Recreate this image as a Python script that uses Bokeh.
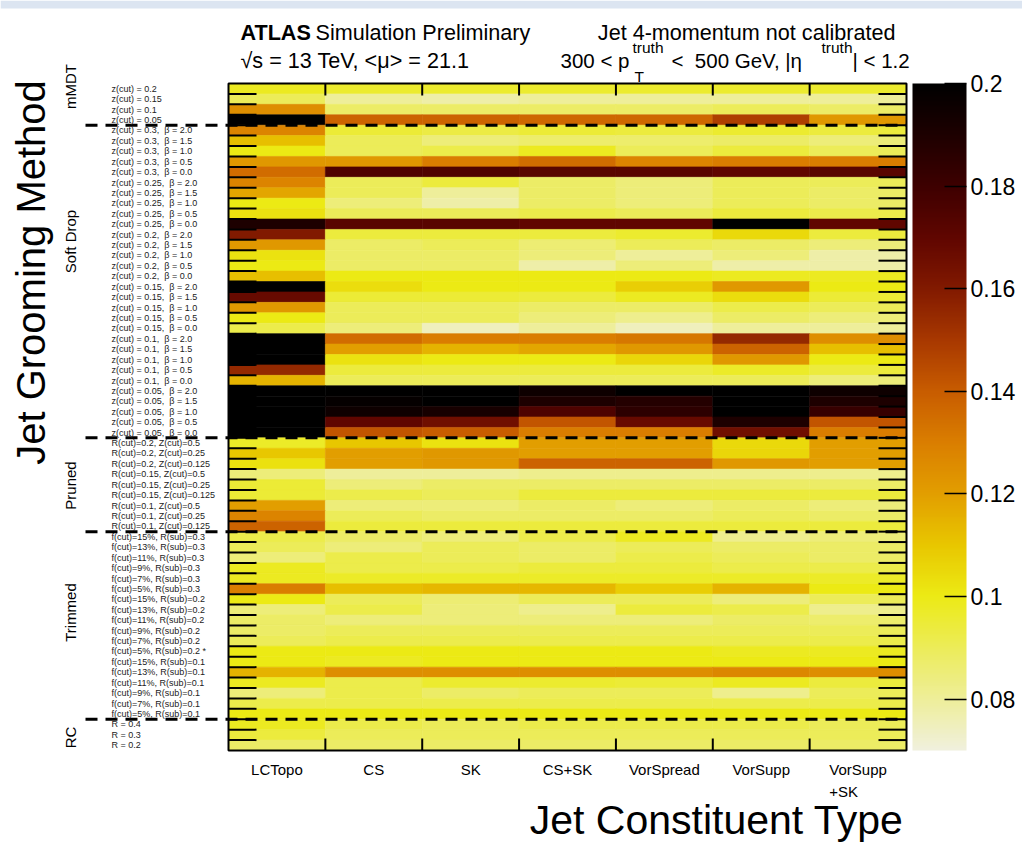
import numpy as np
from bokeh.plotting import figure
from bokeh.models import (ColumnDataSource, LinearColorMapper, ColorBar, FixedTicker,
                          Range1d, Label, LabelSet, NumeralTickFormatter)
from bokeh.core.properties import value
from bokeh.transform import transform
from bokeh.embed import file_html
from bokeh.resources import INLINE

# ---------------- data ----------------
constituents = ["LCTopo", "CS", "SK", "CS+SK", "VorSpread", "VorSupp", "VorSupp\n+SK"]

groups = ["mMDT", "Soft Drop", "Pruned", "Trimmed", "RC"]

mmdt_labels = ["z(cut) = 0.2", "z(cut) = 0.15", "z(cut) = 0.1", "z(cut) = 0.05"]
softdrop_labels = [f"z(cut) = {z},\u00a0 \u03b2 = {b}"
                   for z in ["0.3", "0.25", "0.2", "0.15", "0.1", "0.05"]
                   for b in ["2.0", "1.5", "1.0", "0.5", "0.0"]]
pruned_labels = [f"R(cut)={r}, Z(cut)={zc}"
                 for r in ["0.2", "0.15", "0.1"] for zc in ["0.5", "0.25", "0.125"]]
trimmed_labels = [f"f(cut)={f}, R(sub)={rs}"
                  for rs in ["0.3", "0.2", "0.1"] for f in ["15%", "13%", "11%", "9%", "7%", "5%"]]
trimmed_labels[11] = trimmed_labels[11] + " *"
rc_labels = ["R = 0.4", "R = 0.3", "R = 0.2"]

# columns: LCTopo, CS, SK, CS+SK, VorSpread, VorSupp, VorSupp+SK
mmdt_res = [
    [0.098, 0.096, 0.096, 0.096, 0.096, 0.096, 0.096],
    [0.090, 0.080, 0.078, 0.080, 0.080, 0.080, 0.080],
    [0.125, 0.088, 0.088, 0.088, 0.088, 0.090, 0.088],
    [0.210, 0.138, 0.138, 0.137, 0.137, 0.148, 0.122],
]
softdrop_res = [
    [0.128, 0.095, 0.093, 0.095, 0.094, 0.096, 0.094],
    [0.112, 0.090, 0.085, 0.087, 0.087, 0.088, 0.085],
    [0.100, 0.090, 0.092, 0.098, 0.090, 0.094, 0.090],
    [0.122, 0.122, 0.130, 0.135, 0.128, 0.130, 0.130],
    [0.135, 0.175, 0.175, 0.172, 0.172, 0.170, 0.172],
    [0.128, 0.090, 0.094, 0.088, 0.085, 0.090, 0.090],
    [0.118, 0.090, 0.080, 0.088, 0.085, 0.090, 0.088],
    [0.100, 0.085, 0.078, 0.088, 0.085, 0.090, 0.088],
    [0.102, 0.090, 0.090, 0.092, 0.090, 0.094, 0.092],
    [0.190, 0.172, 0.172, 0.170, 0.170, 0.205, 0.170],
    [0.160, 0.094, 0.094, 0.094, 0.096, 0.105, 0.094],
    [0.122, 0.088, 0.090, 0.086, 0.090, 0.088, 0.085],
    [0.102, 0.088, 0.088, 0.085, 0.080, 0.085, 0.078],
    [0.100, 0.088, 0.088, 0.078, 0.085, 0.078, 0.078],
    [0.112, 0.100, 0.100, 0.100, 0.100, 0.098, 0.098],
    [0.210, 0.104, 0.100, 0.100, 0.108, 0.122, 0.100],
    [0.168, 0.095, 0.095, 0.094, 0.098, 0.104, 0.095],
    [0.122, 0.090, 0.090, 0.088, 0.088, 0.092, 0.090],
    [0.100, 0.090, 0.090, 0.085, 0.082, 0.088, 0.085],
    [0.092, 0.085, 0.075, 0.080, 0.075, 0.080, 0.080],
    [0.210, 0.135, 0.130, 0.130, 0.132, 0.155, 0.125],
    [0.210, 0.120, 0.115, 0.118, 0.122, 0.138, 0.112],
    [0.210, 0.102, 0.100, 0.100, 0.106, 0.122, 0.100],
    [0.155, 0.094, 0.094, 0.094, 0.094, 0.097, 0.094],
    [0.115, 0.090, 0.090, 0.090, 0.090, 0.090, 0.085],
    [0.210, 0.210, 0.210, 0.195, 0.200, 0.210, 0.195],
    [0.210, 0.198, 0.205, 0.190, 0.188, 0.210, 0.190],
    [0.210, 0.195, 0.192, 0.175, 0.185, 0.210, 0.182],
    [0.210, 0.170, 0.165, 0.142, 0.168, 0.190, 0.142],
    [0.210, 0.142, 0.140, 0.130, 0.130, 0.165, 0.130],
]
pruned_res = [
    [0.097, 0.110, 0.102, 0.120, 0.120, 0.105, 0.120],
    [0.110, 0.120, 0.122, 0.120, 0.120, 0.106, 0.120],
    [0.103, 0.120, 0.122, 0.138, 0.138, 0.122, 0.120],
    [0.085, 0.080, 0.080, 0.082, 0.082, 0.082, 0.082],
    [0.095, 0.085, 0.088, 0.088, 0.088, 0.088, 0.088],
    [0.095, 0.092, 0.090, 0.094, 0.094, 0.094, 0.094],
    [0.120, 0.085, 0.085, 0.088, 0.085, 0.088, 0.085],
    [0.128, 0.090, 0.088, 0.088, 0.088, 0.090, 0.088],
    [0.138, 0.094, 0.094, 0.094, 0.094, 0.094, 0.094],
]
trimmed_res = [
    [0.092, 0.088, 0.085, 0.092, 0.098, 0.082, 0.085],
    [0.090, 0.085, 0.090, 0.088, 0.090, 0.088, 0.088],
    [0.085, 0.092, 0.090, 0.088, 0.092, 0.090, 0.088],
    [0.098, 0.092, 0.092, 0.094, 0.094, 0.092, 0.092],
    [0.098, 0.097, 0.097, 0.097, 0.097, 0.097, 0.097],
    [0.130, 0.112, 0.114, 0.114, 0.108, 0.115, 0.100],
    [0.100, 0.090, 0.086, 0.090, 0.090, 0.085, 0.090],
    [0.085, 0.092, 0.085, 0.082, 0.094, 0.092, 0.082],
    [0.088, 0.085, 0.085, 0.085, 0.085, 0.088, 0.087],
    [0.088, 0.090, 0.090, 0.090, 0.090, 0.090, 0.090],
    [0.090, 0.092, 0.092, 0.092, 0.092, 0.092, 0.092],
    [0.100, 0.100, 0.100, 0.100, 0.100, 0.098, 0.098],
    [0.100, 0.098, 0.100, 0.100, 0.100, 0.100, 0.100],
    [0.115, 0.125, 0.125, 0.125, 0.125, 0.127, 0.125],
    [0.098, 0.092, 0.096, 0.096, 0.095, 0.098, 0.094],
    [0.085, 0.092, 0.088, 0.090, 0.090, 0.082, 0.090],
    [0.092, 0.092, 0.092, 0.092, 0.092, 0.092, 0.092],
    [0.100, 0.100, 0.100, 0.100, 0.100, 0.100, 0.100],
]
rc_res = [
    [0.098, 0.092, 0.090, 0.092, 0.092, 0.092, 0.090],
    [0.094, 0.090, 0.090, 0.090, 0.090, 0.090, 0.090],
    [0.088, 0.088, 0.088, 0.088, 0.088, 0.088, 0.088],
]

cbar_ticks = [0.08, 0.10, 0.12, 0.14, 0.16, 0.18, 0.20]
z_low, z_high = 0.07, 0.20

# ---------------- assemble ----------------
row_labels = mmdt_labels + softdrop_labels + pruned_labels + trimmed_labels + rc_labels
group_rows = [mmdt_res, softdrop_res, pruned_res, trimmed_res, rc_res]
rows = [r for g in group_rows for r in g]
nrow, ncol = len(rows), len(constituents)
group_edges = [float(e) for e in np.cumsum([len(g) for g in group_rows])[:-1]]

xs, ys, vals = [], [], []
for i, r in enumerate(rows):
    for j, v in enumerate(r):
        xs.append(j + 0.5)
        ys.append(i + 0.5)
        vals.append(v)
src = ColumnDataSource(dict(x=xs, y=ys, v=vals))

# palette (dark body radiator style)
anchors = [(0.07, "#f0f0dc"), (0.08, "#eeee98"), (0.09, "#ecec58"), (0.10, "#ecea14"),
           (0.11, "#e8c600"), (0.12, "#e29e00"), (0.13, "#da7e00"), (0.14, "#c85c00"),
           (0.15, "#a83800"), (0.16, "#821a00"), (0.17, "#600600"), (0.18, "#3e0000"),
           (0.19, "#1e0000"), (0.20, "#000000")]
def hex2rgb(h):
    return [int(h[k:k + 2], 16) for k in (1, 3, 5)]
av = np.array([a[0] for a in anchors])
ac = np.array([hex2rgb(a[1]) for a in anchors], dtype=float)
grid_v = np.linspace(z_low, z_high, 256)
palette = []
for g in grid_v:
    rgb = [np.interp(g, av, ac[:, k]) for k in range(3)]
    palette.append("#%02x%02x%02x" % tuple(int(round(c)) for c in rgb))
mapper = LinearColorMapper(palette=palette, low=z_low, high=z_high,
                           high_color="#000000", low_color=palette[0])

# ---------------- layout geometry (canvas px) ----------------
W, H = 1022, 844
FL, FR, FT, FB = 228, 906, 83, 750          # heatmap box in canvas px
SX = (FR - FL) / ncol
SY = (FB - FT) / nrow

def dx(px):
    return (px - FL) / SX

def dy(py):
    return (py - FT) / SY

p = figure(width=W, height=H,
           x_range=Range1d(dx(0), dx(W)), y_range=Range1d(dy(H), dy(0)),
           output_backend="svg", toolbar_location=None,
           x_axis_location=None, y_axis_location=None,
           min_border_left=0, min_border_right=0, min_border_top=0, min_border_bottom=0)
p.grid.visible = False
p.outline_line_color = None
p.background_fill_color = "white"
p.border_fill_color = "white"

# light band at the very top of the page
p.quad(left=dx(0), right=dx(W), top=dy(0), bottom=dy(8), fill_color="#dce5f1", line_color=None)

# heatmap cells
p.rect(x="x", y="y", width=1, height=1, source=src,
       fill_color=transform("v", mapper), line_color=transform("v", mapper), line_width=0.6)

# inward ticks at row / column boundaries
row_b = list(range(1, nrow))
col_b = list(range(1, ncol))
tl_r, tl_c = 28 / SX, 12 / SY
p.segment(x0=[0] * len(row_b), x1=[tl_r] * len(row_b), y0=row_b, y1=row_b,
          line_color="black", line_width=2)
p.segment(x0=[ncol - tl_r] * len(row_b), x1=[ncol] * len(row_b), y0=row_b, y1=row_b,
          line_color="black", line_width=2)
p.segment(x0=col_b, x1=col_b, y0=[0] * len(col_b), y1=[tl_c] * len(col_b),
          line_color="black", line_width=2)
p.segment(x0=col_b, x1=col_b, y0=[nrow - tl_c] * len(col_b), y1=[nrow] * len(col_b),
          line_color="black", line_width=2)

# frame
p.quad(left=0, right=ncol, top=0, bottom=nrow, fill_color=None, line_color="black", line_width=2)

# dashed separators between grooming groups
p.segment(x0=[dx(85)] * len(group_edges), x1=[ncol] * len(group_edges),
          y0=group_edges, y1=group_edges, line_color="black", line_width=3, line_dash="12 8")

# colour bar (placed inside the full-canvas frame)
cb = ColorBar(color_mapper=mapper, ticker=FixedTicker(ticks=cbar_ticks),
              formatter=NumeralTickFormatter(format="0.[00]"),
              width=54, height=FB - FT, padding=0, margin=0, location=(912, H - FB),
              major_tick_in=22, major_tick_out=0, major_tick_line_color="black",
              major_tick_line_width=1.5, minor_tick_line_color=None,
              major_label_text_font="Liberation Sans", major_label_text_font_size="23px",
              major_label_text_color="black", label_standoff=4,
              bar_line_color=None, border_line_color=None, background_fill_color=None)
p.add_layout(cb)

FONT = "Liberation Sans"

# row labels
lab_src = ColumnDataSource(dict(x=[dx(111)] * nrow, y=[i + 0.5 for i in range(nrow)], t=row_labels))
p.add_layout(LabelSet(x="x", y="y", text="t", source=lab_src, text_font=value(FONT),
                      text_font_size="9px", text_color="#222222", text_align="left",
                      text_baseline="middle"))

# column labels
col_src = ColumnDataSource(dict(x=[j + 0.5 for j in range(ncol)], y=[dy(760)] * ncol, t=constituents))
p.add_layout(LabelSet(x="x", y="y", text="t", source=col_src, text_font=value(FONT),
                      text_font_size="15px", text_color="black", text_align="center",
                      text_baseline="top", text_line_height=1.3))

def lab(text, px, py, size, align="left", baseline="middle", angle=0, style="normal"):
    p.add_layout(Label(x=dx(px), y=dy(py), text=text, text_font=FONT,
                       text_font_size=size, text_align=align, text_baseline=baseline,
                       angle=angle, text_font_style=style, text_color="black"))

# group labels
group_centers = [86, 241, 485, 612, 737]
for gname, gc in zip(groups, group_centers):
    lab(gname, 70, gc, "15px", align="center", angle=np.pi / 2)

# axis titles
lab("Jet Grooming Method", 30, 272, "40px", align="center", angle=np.pi / 2)
lab("Jet Constituent Type", 903, 819, "41px", align="right", baseline="middle")

# header
HS, LS, SS = "21.6px", "20.5px", "15.5px"
lab("ATLAS", 240, 32, HS, style="bold")
lab("Simulation Preliminary", 315, 32, HS)
lab("\u221as = 13 TeV, <\u03bc> = 21.1", 240, 60, HS)
lab("Jet 4-momentum not calibrated", 895, 32, HS, align="right")
lab("300 < p", 560, 60, LS)
lab("truth", 632, 47, SS)
lab("T", 634, 76, SS)
lab("<\u00a0 500 GeV, |\u03b7", 671, 60, LS)
lab("truth", 821, 47, SS)
lab("| < 1.2", 852, 60, LS)

open("out.html", "w").write(file_html(p, INLINE))
